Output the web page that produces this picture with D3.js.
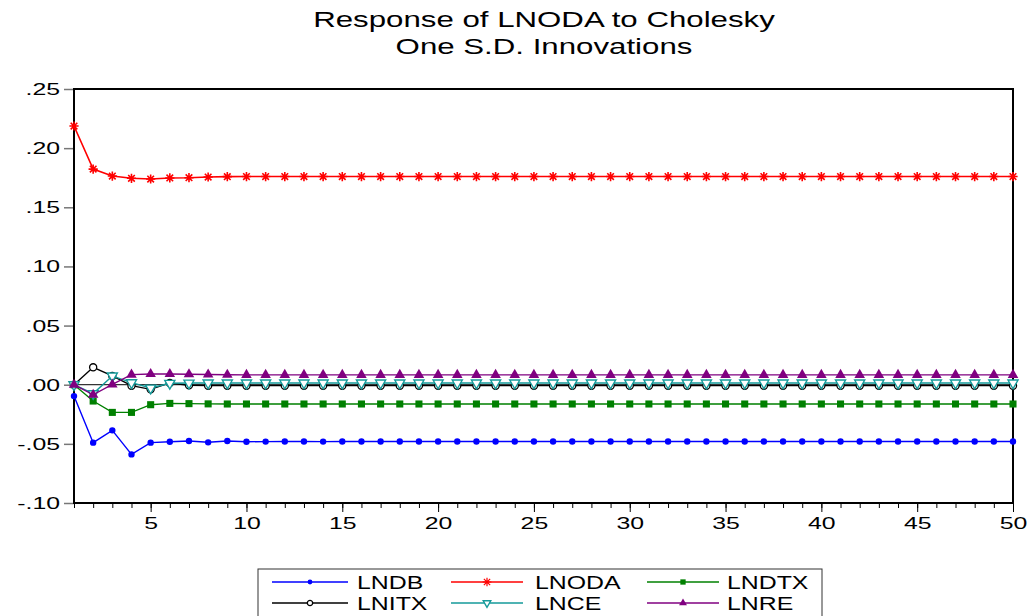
<!DOCTYPE html>
<html><head><meta charset="utf-8">
<script src="https://cdn.jsdelivr.net/npm/d3@7"></script>
<style>body{margin:0;background:#fff;}svg{display:block;font-family:"Liberation Sans",Arial,sans-serif;}</style>
</head><body>
<svg id="c" width="1030" height="616"></svg>
<script>
const periods = d3.range(1, 51);
const LNDB = [-0.0096,-0.0490,-0.0386,-0.0589,-0.0490,-0.0482,-0.0476,-0.0487,-0.0476,-0.0482,
-0.0481,-0.0480,-0.0480,-0.0481,-0.0480,-0.0480,-0.0480,-0.0480,-0.0480,-0.0480,
-0.0480,-0.0480,-0.0480,-0.0480,-0.0480,-0.0480,-0.0480,-0.0480,-0.0480,-0.0480,
-0.0480,-0.0480,-0.0480,-0.0480,-0.0480,-0.0480,-0.0480,-0.0480,-0.0480,-0.0480,
-0.0480,-0.0480,-0.0480,-0.0480,-0.0480,-0.0480,-0.0480,-0.0480,-0.0480,-0.0480];
const LNODA = [0.2187,0.1823,0.1764,0.1745,0.1739,0.1748,0.1750,0.1756,0.1759,0.1760,
0.1760,0.1760,0.1760,0.1760,0.1760,0.1760,0.1760,0.1760,0.1760,0.1760,
0.1760,0.1760,0.1760,0.1760,0.1760,0.1760,0.1760,0.1760,0.1760,0.1760,
0.1760,0.1760,0.1760,0.1760,0.1760,0.1760,0.1760,0.1760,0.1760,0.1760,
0.1760,0.1760,0.1760,0.1760,0.1760,0.1760,0.1760,0.1760,0.1760,0.1760];
const LNDTX = [0.0000,-0.0138,-0.0234,-0.0234,-0.0169,-0.0158,-0.0160,-0.0162,-0.0163,-0.0163,
-0.0163,-0.0163,-0.0163,-0.0163,-0.0163,-0.0163,-0.0163,-0.0163,-0.0163,-0.0163,
-0.0163,-0.0163,-0.0163,-0.0163,-0.0163,-0.0163,-0.0163,-0.0163,-0.0163,-0.0163,
-0.0163,-0.0163,-0.0163,-0.0163,-0.0163,-0.0163,-0.0163,-0.0163,-0.0163,-0.0163,
-0.0163,-0.0163,-0.0163,-0.0163,-0.0163,-0.0163,-0.0163,-0.0163,-0.0163,-0.0163];
const LNITX = [0.0000,0.0147,0.0074,-0.0008,-0.0039,0.0015,-0.0005,-0.0008,-0.0008,-0.0008,
-0.0008,-0.0008,-0.0008,-0.0008,-0.0008,-0.0008,-0.0008,-0.0008,-0.0008,-0.0008,
-0.0008,-0.0008,-0.0008,-0.0008,-0.0008,-0.0008,-0.0008,-0.0008,-0.0008,-0.0008,
-0.0008,-0.0008,-0.0008,-0.0008,-0.0008,-0.0008,-0.0008,-0.0008,-0.0008,-0.0008,
-0.0008,-0.0008,-0.0008,-0.0008,-0.0008,-0.0008,-0.0008,-0.0008,-0.0008,-0.0008];
const LNCE = [0.0000,-0.0075,0.0074,0.0017,-0.0028,0.0012,0.0014,0.0015,0.0015,0.0015,
0.0015,0.0015,0.0015,0.0015,0.0015,0.0015,0.0015,0.0015,0.0015,0.0015,
0.0015,0.0015,0.0015,0.0015,0.0015,0.0015,0.0015,0.0015,0.0015,0.0015,
0.0015,0.0015,0.0015,0.0015,0.0015,0.0015,0.0015,0.0015,0.0015,0.0015,
0.0015,0.0015,0.0015,0.0015,0.0015,0.0015,0.0015,0.0015,0.0015,0.0015];
const LNRE = [0.0000,-0.0085,0.0002,0.0085,0.0090,0.0090,0.0088,0.0086,0.0084,0.0083,
0.0083,0.0083,0.0083,0.0083,0.0083,0.0083,0.0083,0.0083,0.0083,0.0083,
0.0083,0.0083,0.0083,0.0083,0.0083,0.0083,0.0083,0.0083,0.0083,0.0083,
0.0083,0.0083,0.0083,0.0083,0.0083,0.0083,0.0083,0.0083,0.0083,0.0083,
0.0083,0.0083,0.0083,0.0083,0.0083,0.0083,0.0083,0.0083,0.0083,0.0083];
const yTicks = [-0.10,-0.05,0.00,0.05,0.10,0.15,0.20,0.25];
const xTicks = [5,10,15,20,25,30,35,40,45,50];
const titleLines = ["Response of LNODA to Cholesky", "One S.D. Innovations"];

const series = [
  {name:"LNDB", values:LNDB, color:"#0000ff", marker:"dot"},
  {name:"LNODA", values:LNODA, color:"#ff0000", marker:"star"},
  {name:"LNDTX", values:LNDTX, color:"#008000", marker:"square"},
  {name:"LNITX", values:LNITX, color:"#000000", marker:"ocircle"},
  {name:"LNCE", values:LNCE, color:"#159a9a", marker:"dtri"},
  {name:"LNRE", values:LNRE, color:"#800080", marker:"utri"}
];

const svg = d3.select("#c");
const L = 74, R = 1013, T = 89, B = 503;
const x = d3.scaleLinear().domain([1,50]).range([L,R]);
const y = d3.scaleLinear().domain([-0.10,0.25]).range([B,T]);
const SX = 1.42; // horizontal text stretch seen in the reference

// title
svg.selectAll("text.title").data(titleLines).enter().append("text")
  .attr("class","title")
  .attr("transform",(d,i)=>`translate(544,${27+i*27}) scale(${SX},1)`)
  .attr("text-anchor","middle").attr("font-size",22).attr("fill","#000").text(d=>d);

// zero line
svg.append("line").attr("x1",L).attr("x2",R).attr("y1",y(0)).attr("y2",y(0))
  .attr("stroke","#000").attr("stroke-width",1);

// y axis
const fmt = v => { let s = d3.format(".2f")(v).replace("\u2212","-"); return s.replace(/^(-?)0\./,"$1."); };
const yAxis = svg.append("g").attr("transform",`translate(${L},0)`)
  .call(d3.axisLeft(y).tickValues(yTicks).tickSize(10).tickSizeOuter(0).tickFormat(fmt));
yAxis.select(".domain").remove();
yAxis.selectAll(".tick line").attr("stroke","#777").attr("stroke-width",1.5);
yAxis.selectAll(".tick text").attr("font-size",17).attr("font-family","Liberation Sans, Arial, sans-serif")
  .attr("fill","#000").attr("x",null).attr("transform",`translate(-14,0) scale(1.46,1)`);

// x axis minor ticks
const xAxisMinor = svg.append("g").attr("transform",`translate(0,${B})`)
  .call(d3.axisBottom(x).tickValues(periods).tickSize(5).tickSizeOuter(0).tickFormat(""));
xAxisMinor.select(".domain").remove();
xAxisMinor.selectAll(".tick line").attr("stroke","#000");
const xAxis = svg.append("g").attr("transform",`translate(0,${B})`)
  .call(d3.axisBottom(x).tickValues(xTicks).tickSize(9).tickSizeOuter(0).tickFormat(d3.format("d")));
xAxis.select(".domain").remove();
xAxis.selectAll(".tick line").attr("stroke","#000");
xAxis.selectAll(".tick text").attr("font-size",17).attr("font-family","Liberation Sans, Arial, sans-serif")
  .attr("fill","#000").attr("y",14).attr("transform",`scale(1.46,1)`);

// frame
svg.append("rect").attr("x",L).attr("y",T).attr("width",R-L).attr("height",B-T)
  .attr("fill","none").attr("stroke","#000").attr("stroke-width",2);

function drawMarker(g, m, color, cx, cy, k) {
  k = k || 1;
  if (m === "star") {
    const r = 4.6*k, d = r*0.72;
    g.append("path").attr("transform",`translate(${cx},${cy})`)
      .attr("d",`M${-r},0L${r},0M0,${-r}L0,${r}M${-d},${-d}L${d},${d}M${-d},${d}L${d},${-d}`)
      .attr("stroke",color).attr("stroke-width",k<1?1.2:1.6).attr("fill","none");
  } else if (m === "dtri") {
    g.append("path").attr("d",d3.symbol().type(d3.symbolTriangle).size(44*k*k)())
      .attr("transform",`translate(${cx},${cy}) rotate(180)`)
      .attr("fill","#fff").attr("stroke",color).attr("stroke-width",1.4);
  } else if (m === "ocircle") {
    g.append("path").attr("d",d3.symbol().type(d3.symbolCircle).size(40*k*k)())
      .attr("transform",`translate(${cx},${cy})`)
      .attr("fill","#fff").attr("stroke",color).attr("stroke-width",1.3);
  } else if (m === "dot") {
    g.append("path").attr("d",d3.symbol().type(d3.symbolCircle).size(32*k*k)())
      .attr("transform",`translate(${cx},${cy})`).attr("fill",color);
  } else if (m === "square") {
    g.append("path").attr("d",d3.symbol().type(d3.symbolSquare).size(50*k*k)())
      .attr("transform",`translate(${cx},${cy})`).attr("fill",color);
  } else if (m === "utri") {
    g.append("path").attr("d",d3.symbol().type(d3.symbolTriangle).size(48*k*k)())
      .attr("transform",`translate(${cx},${cy})`).attr("fill",color);
  }
}

const line = d3.line().x((d,i)=>x(periods[i])).y(d=>y(d));
series.forEach(s => {
  const g = svg.append("g");
  g.append("path").attr("d",line(s.values)).attr("fill","none").attr("stroke",s.color)
    .attr("stroke-width", s.name==="LNODA"?1.6:1.4);
  s.values.forEach((v,i)=>drawMarker(g, s.marker, s.color, x(periods[i]), y(v)));
});

// legend
const lg = svg.append("g");
lg.append("rect").attr("x",258).attr("y",569).attr("width",564).attr("height",60)
  .attr("fill","#fff").attr("stroke","#333").attr("stroke-width",1);
const colLine = [[272,348],[451,523],[647,719]];
const colText = [357, 535, 727];
const rowY = [582, 603];
series.forEach((s,i) => {
  const c = i%3, cy = rowY[Math.floor(i/3)];
  const [a,b] = colLine[c];
  lg.append("line").attr("x1",a).attr("x2",b).attr("y1",cy).attr("y2",cy)
    .attr("stroke",s.color).attr("stroke-width",1.3);
  drawMarker(lg, s.marker, s.color, (a+b)/2, cy, s.marker==="star"?0.95:0.75);
  lg.append("text").attr("transform",`translate(${colText[c]},${cy+6.5}) scale(1.38,1)`)
    .attr("font-size",18).attr("fill","#000").text(s.name);
});
</script>
</body></html>
